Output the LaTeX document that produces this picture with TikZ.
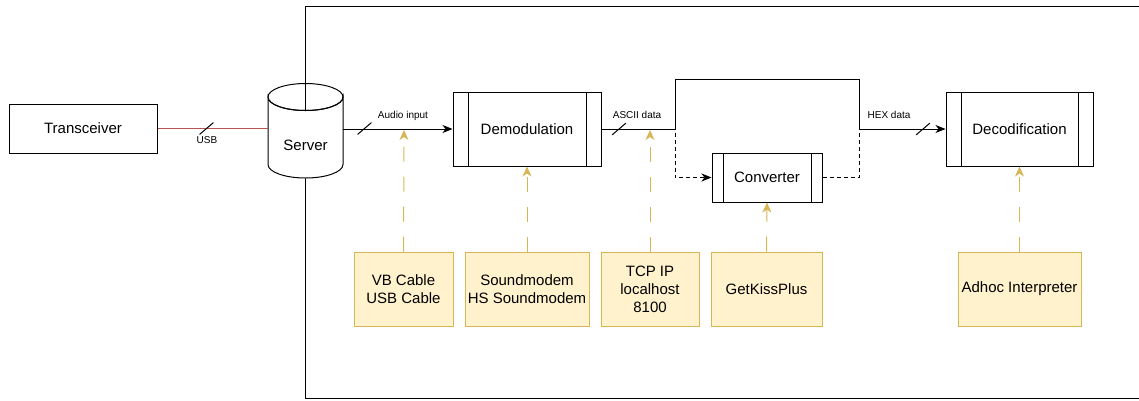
\documentclass[tikz,border=0pt]{standalone}
\usepackage{fontspec}
\setmainfont{Liberation Sans}
\usetikzlibrary{arrows.meta,calc}

\definecolor{noteFill}{HTML}{FFF2CC}
\definecolor{noteLine}{HTML}{D6B656}
\definecolor{usbRed}{HTML}{B85450}

\tikzset{
  boxfont/.style={font=\fontsize{15}{18}\selectfont},
  lblfont/.style={font=\fontsize{10}{12}\selectfont},
  plainbox/.style={draw, line width=1pt, fill=white, boxfont, inner sep=0pt, align=center},
  process/.style={plainbox,
    path picture={
      \draw[line width=1pt] ([xshift=#1]path picture bounding box.north west) -- ([xshift=#1]path picture bounding box.south west);
      \draw[line width=1pt] ([xshift=-#1]path picture bounding box.north east) -- ([xshift=-#1]path picture bounding box.south east);
    }},
  note/.style={draw=noteLine, fill=noteFill, line width=1pt, boxfont, inner sep=0pt, align=center, minimum height=74pt},
  tip/.style={-{Stealth[length=10pt,width=8pt,inset=3pt]}},
  flow/.style={line width=1pt, tip},
  dflow/.style={line width=1pt, dash pattern=on 4pt off 3pt},
  usbline/.style={line width=1.2pt, draw=usbRed},
  hint/.style={line width=1pt, draw=noteLine, dash pattern=on 15pt off 15pt,
    -{Stealth[length=10pt,width=9pt,inset=3pt,fill=noteLine,color=noteLine]}},
  slashmark/.style={inner sep=0pt, minimum width=13pt, minimum height=11pt},
  slashline/.style={line width=1pt, line cap=round},
  edgelabel/.style={lblfont, inner sep=1pt}
}

\begin{document}
\begin{tikzpicture}[x=1pt, y=-1pt]
  \useasboundingbox (0,0) rectangle (1139,400);

  % system boundary
  \draw[line width=1pt] (1142,6) -- (305,6) -- (305,398) -- (1142,398);

  % external radio
  \node[plainbox, minimum width=148pt, minimum height=49pt] (trx) at (83,128.5) {Transceiver};

  % server drawn as a cylinder
  \node[minimum width=75pt, minimum height=95pt, inner sep=0pt] (srv) at (305.5,130.5) {};
  \draw[line width=1pt, fill=white] (268,97) -- (268,164.5)
     arc[start angle=180, end angle=0, x radius=37.5, y radius=13.5] -- (343,97)
     arc[start angle=0, end angle=180, x radius=37.5, y radius=13.5] -- cycle;
  \draw[line width=1pt] (305.5,97) ellipse[x radius=37.5, y radius=13.5];
  \node[boxfont] (srvtext) at (305.5,145) {Server};

  % processing stages
  \node[process=15pt, minimum width=148pt, minimum height=74pt] (demod) at (527,129) {Demodulation};
  \node[process=11pt, minimum width=110pt, minimum height=49pt] (conv) at (767,177.5) {Converter};
  \node[process=15pt, minimum width=147pt, minimum height=74pt] (decod) at (1019.5,129) {Decodification};

  % supporting tools
  \node[note, minimum width=99pt]  (vb)    at (403.5,289) {VB Cable\\USB Cable};
  \node[note, minimum width=124pt] (sm)    at (527,289)   {Soundmodem\\HS Soundmodem};
  \node[note, minimum width=98pt]  (tcp)   at (650,289)   {TCP IP\\localhost\\8100};
  \node[note, minimum width=111pt] (gk)    at (766.5,289) {GetKissPlus};
  \node[note, minimum width=123pt] (adhoc) at (1019.5,289) {Adhoc Interpreter};

  % junctions of the data path
  \coordinate (jl) at (675,129);
  \coordinate (jr) at (859,129);
  \coordinate (audiotap) at (404,130);
  \coordinate (asciitap) at (650,130);

  % USB link
  \draw[usbline] (trx.east) -- (trx.east -| srv.west);
  \node[edgelabel] (usblbl) at (207,140) {USB};

  % audio input
  \draw[flow] (srv.east |- demod.west) -- (demod.west);
  \node[edgelabel] (audiolbl) at (403,116) {Audio input};

  % ASCII data: direct route over the top and route through the converter
  \draw[flow] (demod.east) -- (jl) -- ++(0,-50) -| (jr) -- (decod.west);
  \draw[dflow, tip] (demod.east) -- (jl) |- (conv.west);
  \draw[dflow] (conv.east) -| (jr) -- ([xshift=-10pt]decod.west);
  \node[edgelabel] (asciilbl) at (637,115) {ASCII data};
  \node[edgelabel] (hexlbl) at (889,115) {HEX data};

  % bus width marks
  \node[slashmark] (s1) at (206.5,128.5) {};
  \node[slashmark] (s2) at (364.5,128.5) {};
  \node[slashmark] (s3) at (619,129) {};
  \node[slashmark] (s4) at (923,129) {};
  \foreach \s in {s1,s2,s3,s4}
    \draw[slashline] (\s.south west) -- (\s.north east);

  % tool-to-stage dependencies
  \draw[hint] (vb.north) -- (audiotap);
  \draw[hint] (sm.north) -- (demod.south);
  \draw[hint] (tcp.north) -- (asciitap);
  \draw[hint] (gk.north) -- (conv.south);
  \draw[hint] (adhoc.north) -- (decod.south);
\end{tikzpicture}
\end{document}
